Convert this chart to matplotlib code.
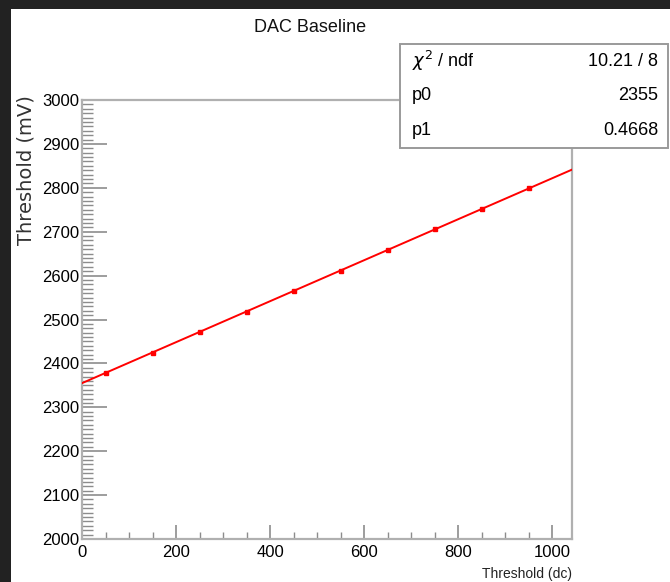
#!/usr/bin/env python3
"""DAC baseline scan: threshold in mV against DAC threshold setting, with a linear fit."""
import numpy as np
import matplotlib
matplotlib.use("Agg")
import matplotlib.pyplot as plt
from matplotlib.ticker import MultipleLocator
from matplotlib.patches import Rectangle

NARROW = ["Liberation Sans Narrow", "Liberation Sans", "DejaVu Sans"]

# scan points
dac = [50, 150, 250, 350, 450, 550, 650, 750, 850, 950]
thr_mv = [2378.9, 2424.2, 2472.5, 2517.6, 2565.8, 2611.0, 2658.9, 2706.3, 2751.2, 2798.9]
thr_err = [1.5, 1.5, 1.5, 1.5, 1.5, 1.5, 1.5, 1.5, 1.5, 1.5]

# linear fit result
p0 = 2355.0
p1 = 0.4668
chi2, ndf = 10.21, 8

x_max = 1042
axis_grey = "#8c8c8c"

fig = plt.figure(figsize=(6.7, 5.82), dpi=100)
fig.patch.set_facecolor("white")

ax = fig.add_axes([82 / 670, 1 - 539 / 582, 490 / 670, 439 / 582])
ax.set_xlim(0, x_max)
ax.set_ylim(2000, 3000)

xf = np.array([0, x_max])
ax.plot(xf, p0 + p1 * xf, color="red", lw=1.4, zorder=3)
ax.errorbar(dac, thr_mv, yerr=thr_err, fmt="s", ms=3.5, color="red",
            ecolor="red", elinewidth=1, capsize=0, zorder=4)

for side in ["left", "bottom", "right", "top"]:
    ax.spines[side].set_color("#b0b0b0")
    ax.spines[side].set_linewidth(1.6)

ax.yaxis.set_major_locator(MultipleLocator(100))
ax.yaxis.set_minor_locator(MultipleLocator(10))
ax.xaxis.set_major_locator(MultipleLocator(200))
ax.xaxis.set_minor_locator(MultipleLocator(50))
ax.tick_params(axis="y", which="major", direction="in", length=18, width=1.2,
               color=axis_grey, pad=2)
ax.tick_params(axis="y", which="minor", direction="in", length=8, width=1.0,
               color=axis_grey)
ax.tick_params(axis="x", which="major", direction="in", length=10, width=1.2,
               color=axis_grey, pad=4)
ax.tick_params(axis="x", which="minor", direction="in", length=5, width=1.0,
               color=axis_grey)
for lab in ax.get_xticklabels() + ax.get_yticklabels():
    lab.set_family(NARROW)
    lab.set_fontsize(12)

ax.text(-0.115, 1.01, "Threshold (mV)", transform=ax.transAxes, rotation=90,
        ha="center", va="top", fontsize=14, family="DejaVu Sans",
        color="#333333")
fig.text(572 / 670, 1 / 582, "Threshold (dc)", ha="right", va="bottom",
         fontsize=10, family=NARROW, color="#222222")

fig.text(310 / 670, 1 - 27 / 582, "DAC Baseline", ha="center", va="center",
         fontsize=13, family=NARROW, color="#111111")

# fit statistics box
bx0, by0, bx1, by1 = 400 / 670, 1 - 148 / 582, 668 / 670, 1 - 44 / 582
fig.patches.append(Rectangle((bx0, by0), bx1 - bx0, by1 - by0,
                             transform=fig.transFigure, facecolor="white",
                             edgecolor="#9a9a9a", lw=1.4, zorder=5))
rows = [(r"$\chi^2$ / ndf", f"{chi2:.2f} / {ndf}"),
        ("p0", f"{p0:.0f}"),
        ("p1", f"{p1:.4f}")]
row_h = (by1 - by0) / 3
for i, (name, val) in enumerate(rows):
    yc = by1 - (i + 0.5) * row_h
    fig.text(bx0 + 12 / 670, yc, name, ha="left", va="center", fontsize=13,
             family=NARROW, zorder=6)
    fig.text(bx1 - 10 / 670, yc, val, ha="right", va="center", fontsize=13,
             family=NARROW, zorder=6)

# dark bands along the top and left edges
fig.patches.append(Rectangle((0, 1 - 9 / 582), 1, 9 / 582,
                             transform=fig.transFigure, facecolor="#222222",
                             edgecolor="none", zorder=10))
fig.patches.append(Rectangle((0, 0), 11 / 670, 1, transform=fig.transFigure,
                             facecolor="#222222", edgecolor="none", zorder=10))

fig.savefig("out.png", dpi=100)
